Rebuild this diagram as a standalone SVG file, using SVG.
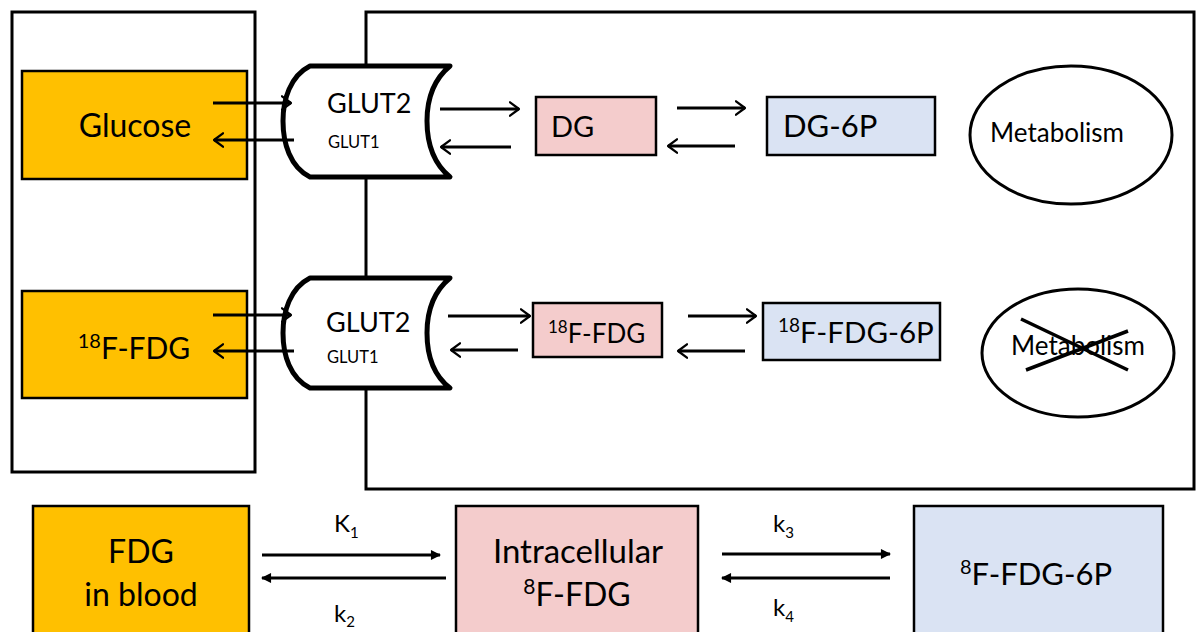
<svg xmlns="http://www.w3.org/2000/svg" width="1196" height="632" viewBox="0 0 1196 632">
<style>
text{font-family:Lato,"Liberation Sans",sans-serif;fill:#000}
.frame{fill:none;stroke:#000;stroke-width:3}
.org{fill:#FFC000;stroke:#000;stroke-width:2.5}
.pink{fill:#F4CCCC;stroke:#000;stroke-width:2.5}
.blue{fill:#DAE3F3;stroke:#000;stroke-width:2.5}
.glut{fill:#fff;stroke:#000;stroke-width:5;stroke-linejoin:round}
.oa{stroke:#000;stroke-width:2.8;fill:none;marker-end:url(#open)}
.fa{stroke:#000;stroke-width:2.8;fill:none;marker-end:url(#filled)}
.ell{fill:#fff;stroke:#000;stroke-width:3}
</style>
<defs>
<marker id="open" viewBox="0 0 10 14" refX="9" refY="7" markerWidth="4" markerHeight="5.6" orient="auto" markerUnits="strokeWidth">
<path d="M1,1 L9,7 L1,13" fill="none" stroke="#000" stroke-width="2" stroke-linecap="round" stroke-linejoin="round"/>
</marker>
<marker id="filled" viewBox="0 0 10 10" refX="9" refY="5" markerWidth="4" markerHeight="3.6" orient="auto" markerUnits="strokeWidth">
<path d="M0,0 L10,5 L0,10 Z" fill="#000"/>
</marker>
</defs>
<g id="blood-frame"><rect class="frame" x="12" y="12" width="243" height="460"/></g>
<g id="cell-frame"><rect class="frame" x="366" y="12" width="828" height="477"/></g>
<g id="glucose"><rect class="org" x="22" y="71" width="225" height="108"/><text x="135" y="137" font-size="32" text-anchor="middle">Glucose</text></g>
<g id="fdg-blood"><rect class="org" x="22" y="291" width="225" height="107"/><text x="134" y="359" font-size="30" text-anchor="middle"><tspan font-size="20" dy="-11">18</tspan><tspan dy="11">F-FDG</tspan></text></g>
<g id="glut-1"><path class="glut" d="M310,66 L450,66 C433,80 427,100 427,121 C427,143 433,163 450,177 L310,177 C290,167 283,143 283,121 C283,100 290,76 310,66 Z"/><text x="327" y="113" font-size="27">GLUT2</text><text x="328" y="148" font-size="16.5">GLUT1</text></g>
<g id="glut-2"><path class="glut" d="M310,278 L450,278 C433,292 427,312 427,333 C427,355 433,375 450,388 L310,388 C290,378 283,355 283,333 C283,312 290,288 310,278 Z"/><text x="326" y="332" font-size="27">GLUT2</text><text x="327" y="363" font-size="16.5">GLUT1</text></g>
<g id="dg"><rect class="pink" x="536" y="97" width="120" height="58"/><text x="551" y="137" font-size="29">DG</text></g>
<g id="dg6p"><rect class="blue" x="767" y="97" width="168" height="58"/><text x="783" y="137" font-size="31">DG-6P</text></g>
<g id="fdg-cell"><rect class="pink" x="533" y="303" width="129" height="54"/><text x="548" y="343" font-size="26"><tspan font-size="17" dy="-10">18</tspan><tspan dy="10">F-FDG</tspan></text></g>
<g id="fdg6p-cell"><rect class="blue" x="763" y="303" width="177" height="57"/><text x="778" y="343" font-size="29.5"><tspan font-size="19" dy="-11">18</tspan><tspan dy="11">F-FDG-6P</tspan></text></g>
<g id="metabolism-1"><ellipse class="ell" cx="1071" cy="135" rx="101" ry="69"/><text x="1057" y="142" font-size="26" text-anchor="middle">Metabolism</text></g>
<g id="metabolism-2"><ellipse class="ell" cx="1078" cy="353" rx="96" ry="64"/><text x="1078" y="355" font-size="26" text-anchor="middle">Metabolism</text><path d="M1021,319 L1128,370 M1026,370 L1128,331" stroke="#000" stroke-width="3.5" fill="none"/></g>
<g id="fdg-in-blood"><rect class="org" x="33" y="506" width="216" height="140"/><text x="141" y="563" font-size="32" text-anchor="middle">FDG</text><text x="141" y="606" font-size="32" text-anchor="middle">in blood</text></g>
<g id="intracellular"><rect class="pink" x="456" y="506" width="242" height="140"/><text x="578" y="563" font-size="33" text-anchor="middle">Intracellular</text><text x="577" y="606" font-size="32" text-anchor="middle"><tspan font-size="21" dy="-12">8</tspan><tspan dy="12">F-FDG</tspan></text></g>
<g id="fdg6p"><rect class="blue" x="914" y="506" width="249" height="140"/><text x="1036" y="585" font-size="31" text-anchor="middle"><tspan font-size="20" dy="-11">8</tspan><tspan dy="11">F-FDG-6P</tspan></text></g>
<g id="connectors">
<line class="oa" x1="213" y1="103" x2="291" y2="103"/>
<line class="oa" x1="294" y1="140" x2="214" y2="140"/>
<line class="oa" x1="440" y1="109" x2="519" y2="109"/>
<line class="oa" x1="511" y1="147" x2="441" y2="147"/>
<line class="oa" x1="677" y1="108" x2="745" y2="108"/>
<line class="oa" x1="735" y1="146" x2="668" y2="146"/>
<line class="oa" x1="213" y1="315" x2="291" y2="315"/>
<line class="oa" x1="294" y1="351" x2="214" y2="351"/>
<line class="oa" x1="448" y1="316" x2="530" y2="316"/>
<line class="oa" x1="518" y1="350" x2="451" y2="350"/>
<line class="oa" x1="688" y1="316" x2="756" y2="316"/>
<line class="oa" x1="745" y1="351" x2="678" y2="351"/>
<line class="fa" x1="262" y1="555" x2="440" y2="555"/>
<line class="fa" x1="446" y1="578" x2="262" y2="578"/>
<line class="fa" x1="722" y1="554" x2="890" y2="554"/>
<line class="fa" x1="890" y1="578" x2="722" y2="578"/>
</g>
<g id="labels">
<text x="334" y="532" font-size="24">K<tspan font-size="15" dy="6">1</tspan></text>
<text x="334" y="622" font-size="24">k<tspan font-size="15" dy="5">2</tspan></text>
<text x="773" y="532" font-size="24">k<tspan font-size="15" dy="6">3</tspan></text>
<text x="773" y="616" font-size="24">k<tspan font-size="15" dy="6">4</tspan></text>
</g>
</svg>
